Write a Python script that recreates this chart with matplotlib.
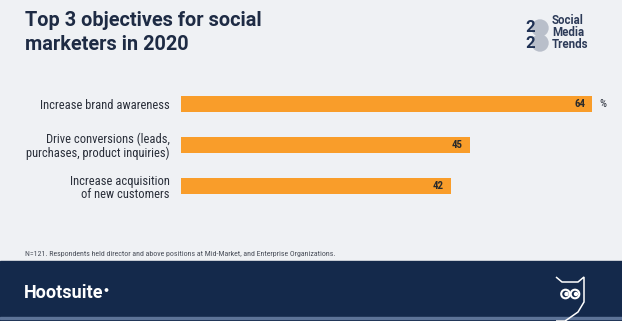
import matplotlib.pyplot as plt
from matplotlib.patches import Rectangle, Circle, Polygon

categories = ["Increase brand awareness",
              "Drive conversions (leads,\npurchases, product inquiries)",
              "Increase acquisition\nof new customers"]
values = [64, 45, 42]

W, H = 622, 321
bg = "#eff1f4"
navy = "#14294b"
orange = "#f99d2a"
label_font = ["Liberation Sans Narrow", "Roboto Condensed", "Liberation Sans", "DejaVu Sans"]
head_font = ["Roboto", "DejaVu Sans"]

fig = plt.figure(figsize=(W / 100, H / 100), dpi=100)
fig.patch.set_facecolor(bg)

# overlay in pixel coordinates for decoration
deco = fig.add_axes([0, 0, 1, 1], zorder=0)
deco.set_xlim(0, W)
deco.set_ylim(H, 0)
deco.axis("off")

# title
deco.text(25, 21, "Top 3 objectives for social", fontsize=14.3, fontweight="bold",
          color="#1e2b44", family=head_font, va="center")
deco.text(25, 45, "marketers in 2020", fontsize=14.3, fontweight="bold",
          color="#1e2b44", family=head_font, va="center")

# bars
ax = fig.add_axes([181 / W, 1 - 206.5 / H, 411 / W, (206.5 - 83.5) / H], zorder=2)
ax.set_facecolor("none")
ypos = list(range(len(values)))
ax.barh(ypos, values, height=0.37, color=orange)
ax.set_xlim(0, max(values))
ax.set_ylim(len(values) - 0.5, -0.5)
for s in ax.spines.values():
    s.set_visible(False)
ax.set_xticks([])
ax.set_yticks(ypos)
ax.set_yticklabels(categories, family=label_font, fontsize=9, color="#2a2f3a",
                   linespacing=1.05)
ax.tick_params(axis="y", length=0, pad=8)
for y, v in zip(ypos, values):
    ax.annotate(str(v), (v, y), xytext=(-5, 0), textcoords="offset points",
                ha="right", va="center", fontsize=7.8, fontweight="bold",
                color="#2a2a2a", family=label_font)
ax.annotate("%", (values[0], 0), xytext=(5, 0), textcoords="offset points",
            ha="left", va="center", fontsize=7.8, color="#2a2f3a", family=label_font)

# footnote
deco.text(25, 254, "N=121. Respondents held director and above positions at Mid-Market, "
          "and Enterprise Organizations.", fontsize=5.7, color="#4a4f5a",
          family=label_font, va="center")

# footer band
deco.add_patch(Rectangle((0, 261), W, H - 261, color=navy, zorder=0))
deco.add_patch(Rectangle((0, 317), W, 1.5, color="#5d7397", zorder=1))
deco.text(24, 293, "Hootsuite", fontsize=13, fontweight="bold", color="white",
          family=head_font, va="center")
deco.add_patch(Circle((106.5, 290), 1.2, color="white"))

# owl outline
owl = [(556, 277), (562, 282), (578, 282), (584, 277), (584, 302), (578, 312),
       (568, 319), (565, 321), (556, 321)]
deco.add_patch(Polygon(owl, closed=False, fill=False, ec="white", lw=1.1, zorder=2))
for ex in (565.5, 575):
    deco.add_patch(Circle((ex, 294), 4.3, fill=False, ec="white", lw=1.5, zorder=2))
    deco.add_patch(Circle((ex + 1, 294), 1.5, color="white", zorder=2))

# 2020 social media trends logo
for cy in (28, 43):
    deco.add_patch(Circle((540, cy), 8, color="#b9bfca", zorder=1))
    deco.text(525, cy, "2", fontsize=12, fontweight="bold", color="#1f3154",
              family=head_font, va="center", zorder=2)
for i, word in enumerate(["Social", "Media", "Trends"]):
    deco.text(552, 21 + 12 * i, word, fontsize=8.3, fontweight="bold",
              color="#2d3b58", family=head_font, va="center")

fig.savefig("out.png", dpi=100, facecolor=bg)
